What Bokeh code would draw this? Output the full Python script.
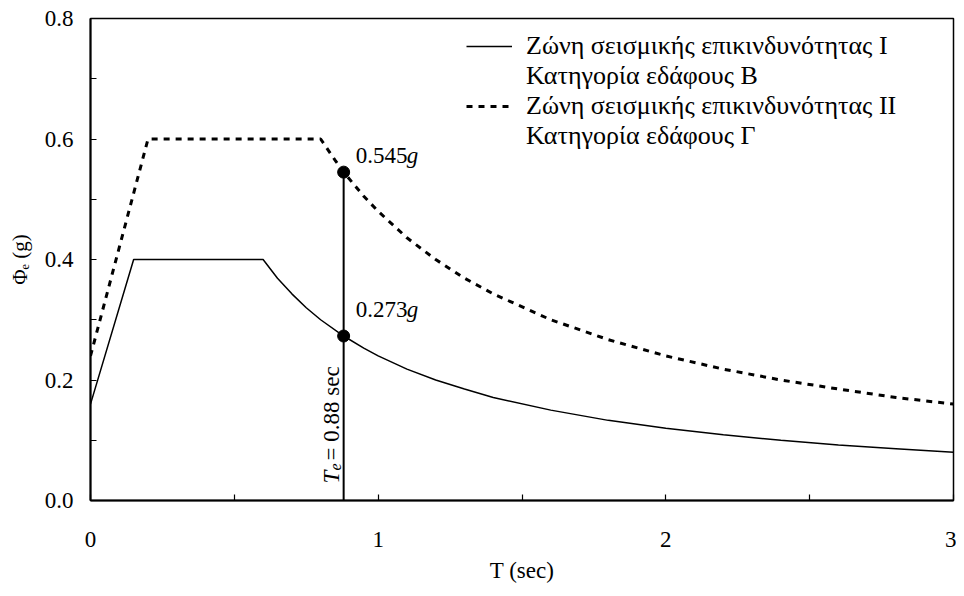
import math
from bokeh.plotting import figure
from bokeh.models import (Label, Legend, LegendItem, FixedTicker, NumeralTickFormatter,
                          Range1d)
from bokeh.embed import file_html
from bokeh.resources import INLINE

# ---- data ----
t_zone1 = [0.0, 0.15, 0.60, 0.65, 0.70, 0.75, 0.80, 0.88, 0.95, 1.0, 1.1, 1.2, 1.3, 1.4,
           1.6, 1.8, 2.0, 2.2, 2.4, 2.6, 2.8, 3.0]
phi_zone1 = [0.16, 0.40, 0.40, 0.369, 0.343, 0.320, 0.300, 0.273, 0.253, 0.240, 0.218,
             0.200, 0.185, 0.171, 0.150, 0.133, 0.120, 0.109, 0.100, 0.092, 0.086, 0.080]

t_zone2 = [0.0, 0.20, 0.80, 0.85, 0.88, 0.95, 1.0, 1.1, 1.2, 1.3, 1.4, 1.6, 1.8, 2.0,
           2.2, 2.4, 2.6, 2.8, 3.0]
phi_zone2 = [0.24, 0.60, 0.60, 0.565, 0.545, 0.505, 0.480, 0.436, 0.400, 0.369, 0.343,
             0.300, 0.267, 0.240, 0.218, 0.200, 0.185, 0.171, 0.160]

t_e = 0.88
phi_at_te = [0.273, 0.545]
label_545 = "0.545"
label_273 = "0.273"

legend_lines = ["Ζώνη σεισμικής επικινδυνότητας I", "Κατηγορία εδάφους Β",
                "Ζώνη σεισμικής επικινδυνότητας II", "Κατηγορία εδάφους Γ"]

x_ticks = [0, 1, 2, 3]
y_ticks = [0.0, 0.2, 0.4, 0.6, 0.8]

FONT = "Liberation Serif"
FS = "23px"

W, H = 956, 588
BL, BR, BT, BB = 90, 3, 18, 88
p = figure(width=W, height=H, output_backend="svg", toolbar_location=None,
           x_range=Range1d(0, 3), y_range=Range1d(0, 0.8),
           min_border_left=BL, min_border_right=BR, min_border_top=BT, min_border_bottom=BB)
p.background_fill_color = "white"
p.border_fill_color = "white"
p.grid.visible = False
p.outline_line_color = "black"
p.outline_line_width = 1.5
p.outline_line_alpha = 1

# axes
for ax in (p.xaxis[0], p.yaxis[0]):
    ax.axis_line_width = 2
    ax.axis_line_color = "black"
    ax.major_tick_in = 6
    ax.major_tick_out = 0
    ax.minor_tick_in = 6
    ax.minor_tick_out = 0
    ax.major_tick_line_color = "black"
    ax.minor_tick_line_color = "black"
    ax.major_tick_line_width = 1.2
    ax.minor_tick_line_width = 1.2
    ax.major_label_text_font = FONT
    ax.major_label_text_font_size = FS
    ax.major_label_text_color = "black"
    ax.axis_label_text_font = FONT
    ax.axis_label_text_font_size = FS
    ax.axis_label_text_font_style = "normal"
    ax.axis_label_text_color = "black"

p.xaxis.ticker = FixedTicker(ticks=x_ticks, minor_ticks=[0.5, 1.5, 2.5])
p.yaxis.ticker = FixedTicker(ticks=y_ticks, minor_ticks=[0.1, 0.3, 0.5, 0.7])
p.yaxis.formatter = NumeralTickFormatter(format="0.0")
p.xaxis.formatter = NumeralTickFormatter(format="0")
p.xaxis.major_label_standoff = 31
p.yaxis.major_label_standoff = 17
p.xaxis.axis_label = "T (sec)"
p.xaxis.axis_label_standoff = 8
p.yaxis.axis_label = "Φₑ (g)"
p.yaxis.axis_label_text_font_size = "21px"
p.yaxis.axis_label_standoff = 10

# curves
r1 = p.line(t_zone1, phi_zone1, line_color="black", line_width=1.5)
r2 = p.line(t_zone2, phi_zone2, line_color="black", line_width=3, line_dash="6 6")

# vertical line at Te and markers
p.segment(x0=[t_e], y0=[0], x1=[t_e], y1=[max(phi_at_te)], line_color="black", line_width=2)
p.scatter([t_e, t_e], phi_at_te, size=12, color="black")

# legend
blank = p.line([0], [0], line_alpha=0)
items = [LegendItem(label=legend_lines[0], renderers=[r1]),
         LegendItem(label=legend_lines[1], renderers=[blank]),
         LegendItem(label=legend_lines[2], renderers=[r2]),
         LegendItem(label=legend_lines[3], renderers=[blank])]
leg = Legend(items=items, location=(376, 349), padding=0, margin=0, spacing=0,
             label_height=28, glyph_height=28, glyph_width=46, label_standoff=14,
             label_text_font=FONT, label_text_font_size="26px", label_text_color="black",
             border_line_alpha=0, background_fill_alpha=0)
p.add_layout(leg)

# frame scale for placing text pieces
frame_h = H - BT - BB
py = 0.8 / frame_h   # data per px (y)

# value annotations (number + italic g)
for val, txt, up in ((phi_at_te[1], label_545, 17), (phi_at_te[0], label_273, 27)):
    yy = val + up * py
    p.add_layout(Label(x=t_e, y=yy, x_offset=12, text=txt, text_font=FONT,
                       text_font_size=FS, text_baseline="alphabetic", text_align="left",
                       text_color="black"))
    p.add_layout(Label(x=t_e, y=yy, x_offset=12 + 51, text="g", text_font=FONT,
                       text_font_style="italic", text_font_size=FS,
                       text_baseline="alphabetic", text_align="left", text_color="black"))

# rotated Te label
y0 = 17 * py
rot = math.pi / 2
p.add_layout(Label(x=t_e, y=y0, x_offset=-12, text="T", angle=rot, text_font=FONT,
                   text_font_style="italic", text_font_size=FS, text_baseline="alphabetic",
                   text_align="left", text_color="black"))
p.add_layout(Label(x=t_e, y=y0 + 13 * py, x_offset=-8, text="e", angle=rot, text_font=FONT,
                   text_font_style="italic", text_font_size="16px", text_baseline="alphabetic",
                   text_align="left", text_color="black"))
p.add_layout(Label(x=t_e, y=y0 + 23 * py, x_offset=-12, text=" = 0.88 sec", angle=rot,
                   text_font=FONT, text_font_size=FS, text_baseline="alphabetic",
                   text_align="left", text_color="black"))

open("out.html", "w").write(file_html(p, INLINE))
